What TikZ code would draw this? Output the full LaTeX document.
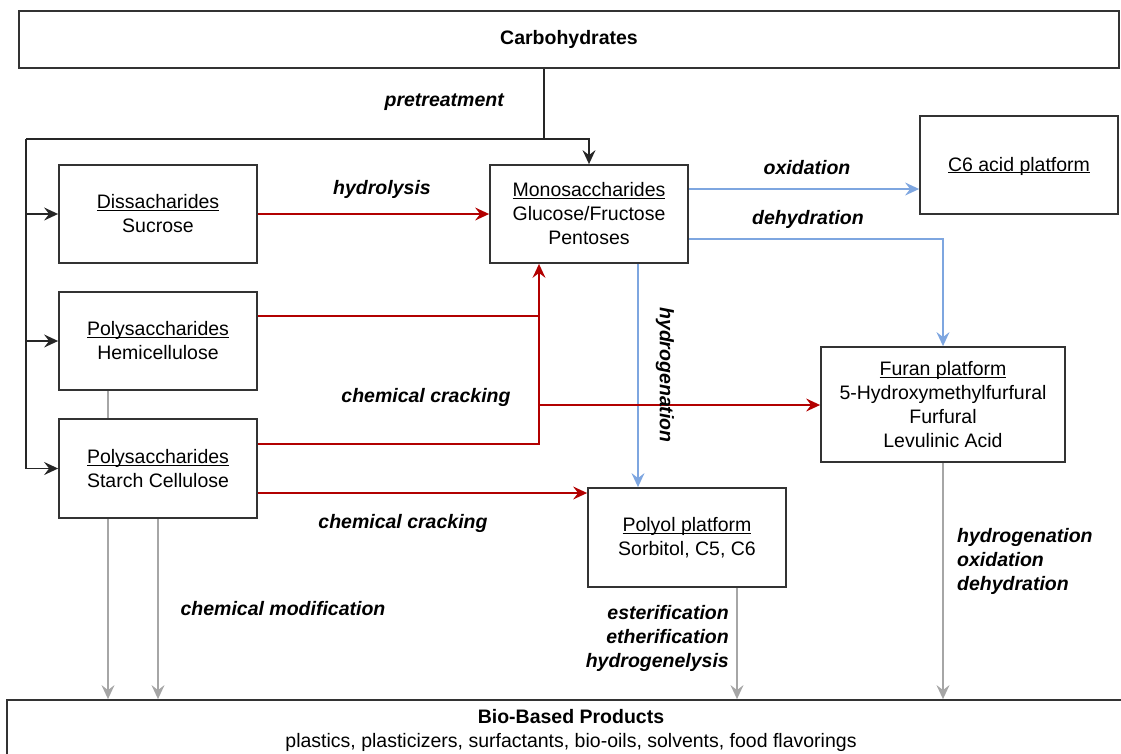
\documentclass[tikz,border=0pt]{standalone}
\usepackage{fontspec}
\setmainfont{Liberation Sans}
\usetikzlibrary{arrows.meta,calc,positioning}
\definecolor{BoxClr}{HTML}{333333}
\definecolor{CrackClr}{HTML}{B20000}
\definecolor{OxiClr}{HTML}{7EA6E0}
\definecolor{ModClr}{HTML}{A6A6A6}
\newcommand{\uln}[1]{\underline{\smash{#1}\vphantom{Ah}}}

\begin{document}
\begin{tikzpicture}[x=1pt,y=-1pt,font=\fontsize{19.5}{24}\selectfont,
  box/.style={draw=BoxClr,line width=1.8pt,align=center,inner sep=0pt},
  lbl/.style={font=\fontsize{19.5}{24}\selectfont\bfseries\itshape,inner sep=0pt},
  tip/.style={-{Stealth[length=14pt,width=13pt,inset=5pt]}},
  blk/.style={line width=1.5pt,black!85},
  crack/.style={line width=1.5pt,CrackClr},
  oxi/.style={line width=1.5pt,OxiClr},
  modi/.style={line width=1.5pt,ModClr}]
\useasboundingbox (0,0) rectangle (1121,753);

\node[box,minimum width=1100pt,minimum height=57pt,font=\fontsize{19.5}{24}\selectfont\bfseries] (carb) at (569,39.5) {Carbohydrates};
\node[box,minimum width=198pt,minimum height=98pt] (dis) at (158,214) {\uln{Dissacharides}\\Sucrose};
\node[box,minimum width=198pt,minimum height=98pt] (hemi) at (158,341) {\uln{Polysaccharides}\\Hemicellulose};
\node[box,minimum width=198pt,minimum height=99pt] (starch) at (158,468.5) {\uln{Polysaccharides}\\Starch Cellulose};
\node[box,minimum width=198pt,minimum height=98pt] (mono) at (589,214) {\uln{Monosaccharides}\\Glucose/Fructose\\Pentoses};
\node[box,minimum width=198pt,minimum height=98pt] (c6) at (1019,165) {\uln{C6 acid platform}};
\node[box,minimum width=244pt,minimum height=115pt] (furan) at (943,404.5) {\uln{Furan platform}\\5-Hydroxymethylfurfural\\Furfural\\Levulinic Acid};
\node[box,minimum width=198pt,minimum height=99pt] (polyol) at (687,537.5) {\uln{Polyol platform}\\Sorbitol, C5, C6};
\node[box,minimum width=1128pt,minimum height=60pt] (bio) at (571,730) {\textbf{Bio-Based Products}\\plastics, plasticizers, surfactants, bio-oils, solvents, food flavorings};

\coordinate (split) at (544,139);
\coordinate (loop) at (26,139);
\coordinate (jct) at (539,405);

\draw[blk] (carb.south -| split) -- (split);
\draw[blk,tip] (loop) -| (mono.north);
\foreach \n in {dis,hemi,starch}
  \draw[blk,tip] (loop) |- (\n.west);

\draw[oxi,tip] ([yshift=25pt]mono.east) -- ([yshift=25pt]mono.east -| c6.west);
\draw[oxi,tip] ([yshift=-25pt]mono.east) -| (furan.north);
\draw[oxi,tip] ([xshift=49pt]mono.south) -- ([xshift=49pt]mono.south |- polyol.north);

\draw[crack,tip] (dis) -- (mono);
\draw[crack] ([yshift=25pt]hemi.east) -- ([yshift=25pt]hemi.east -| jct);
\draw[crack,tip] ([yshift=24.5pt]starch.east) -| (jct |- mono.south);
\draw[crack,tip] (jct) -- (jct -| furan.west);
\draw[crack,tip] ([yshift=-24.5pt]starch.east) -- ([yshift=-24.5pt]starch.east -| polyol.west);

\draw[modi] ([xshift=-50pt]hemi.south) -- ([xshift=-50pt]starch.north);
\draw[modi,tip] ([xshift=-50pt]starch.south) -- ([xshift=-50pt]starch.south |- bio.north);
\draw[modi,tip] (starch.south) -- (starch.south |- bio.north);
\draw[modi,tip] ([xshift=50pt]polyol.south) -- ([xshift=50pt]polyol.south |- bio.north);
\draw[modi,tip] (furan.south) -- (furan.south |- bio.north);

\node[lbl,anchor=east] (pre) at (504,102) {pretreatment};
\node[lbl] (hyd) at (382,189) {hydrolysis};
\node[lbl] (oxl) at (807,168) {oxidation};
\node[lbl] (dhl) at (808,219) {dehydration};
\node[lbl,rotate=-90] (hgl) at (665,375) {hydrogenation};
\node[lbl] (ccup) at (426,397) {chemical cracking};
\node[lbl] (cclo) at (403,523) {chemical cracking};
\node[lbl] (cmod) at (283,609) {chemical modification};
\node[lbl,align=right,anchor=east] (pollbl) at (729,638) {esterification\\etherification\\hydrogenelysis};
\node[lbl,align=left,anchor=west] (furlbl) at (957,561) {hydrogenation\\oxidation\\dehydration};
\end{tikzpicture}
\end{document}
